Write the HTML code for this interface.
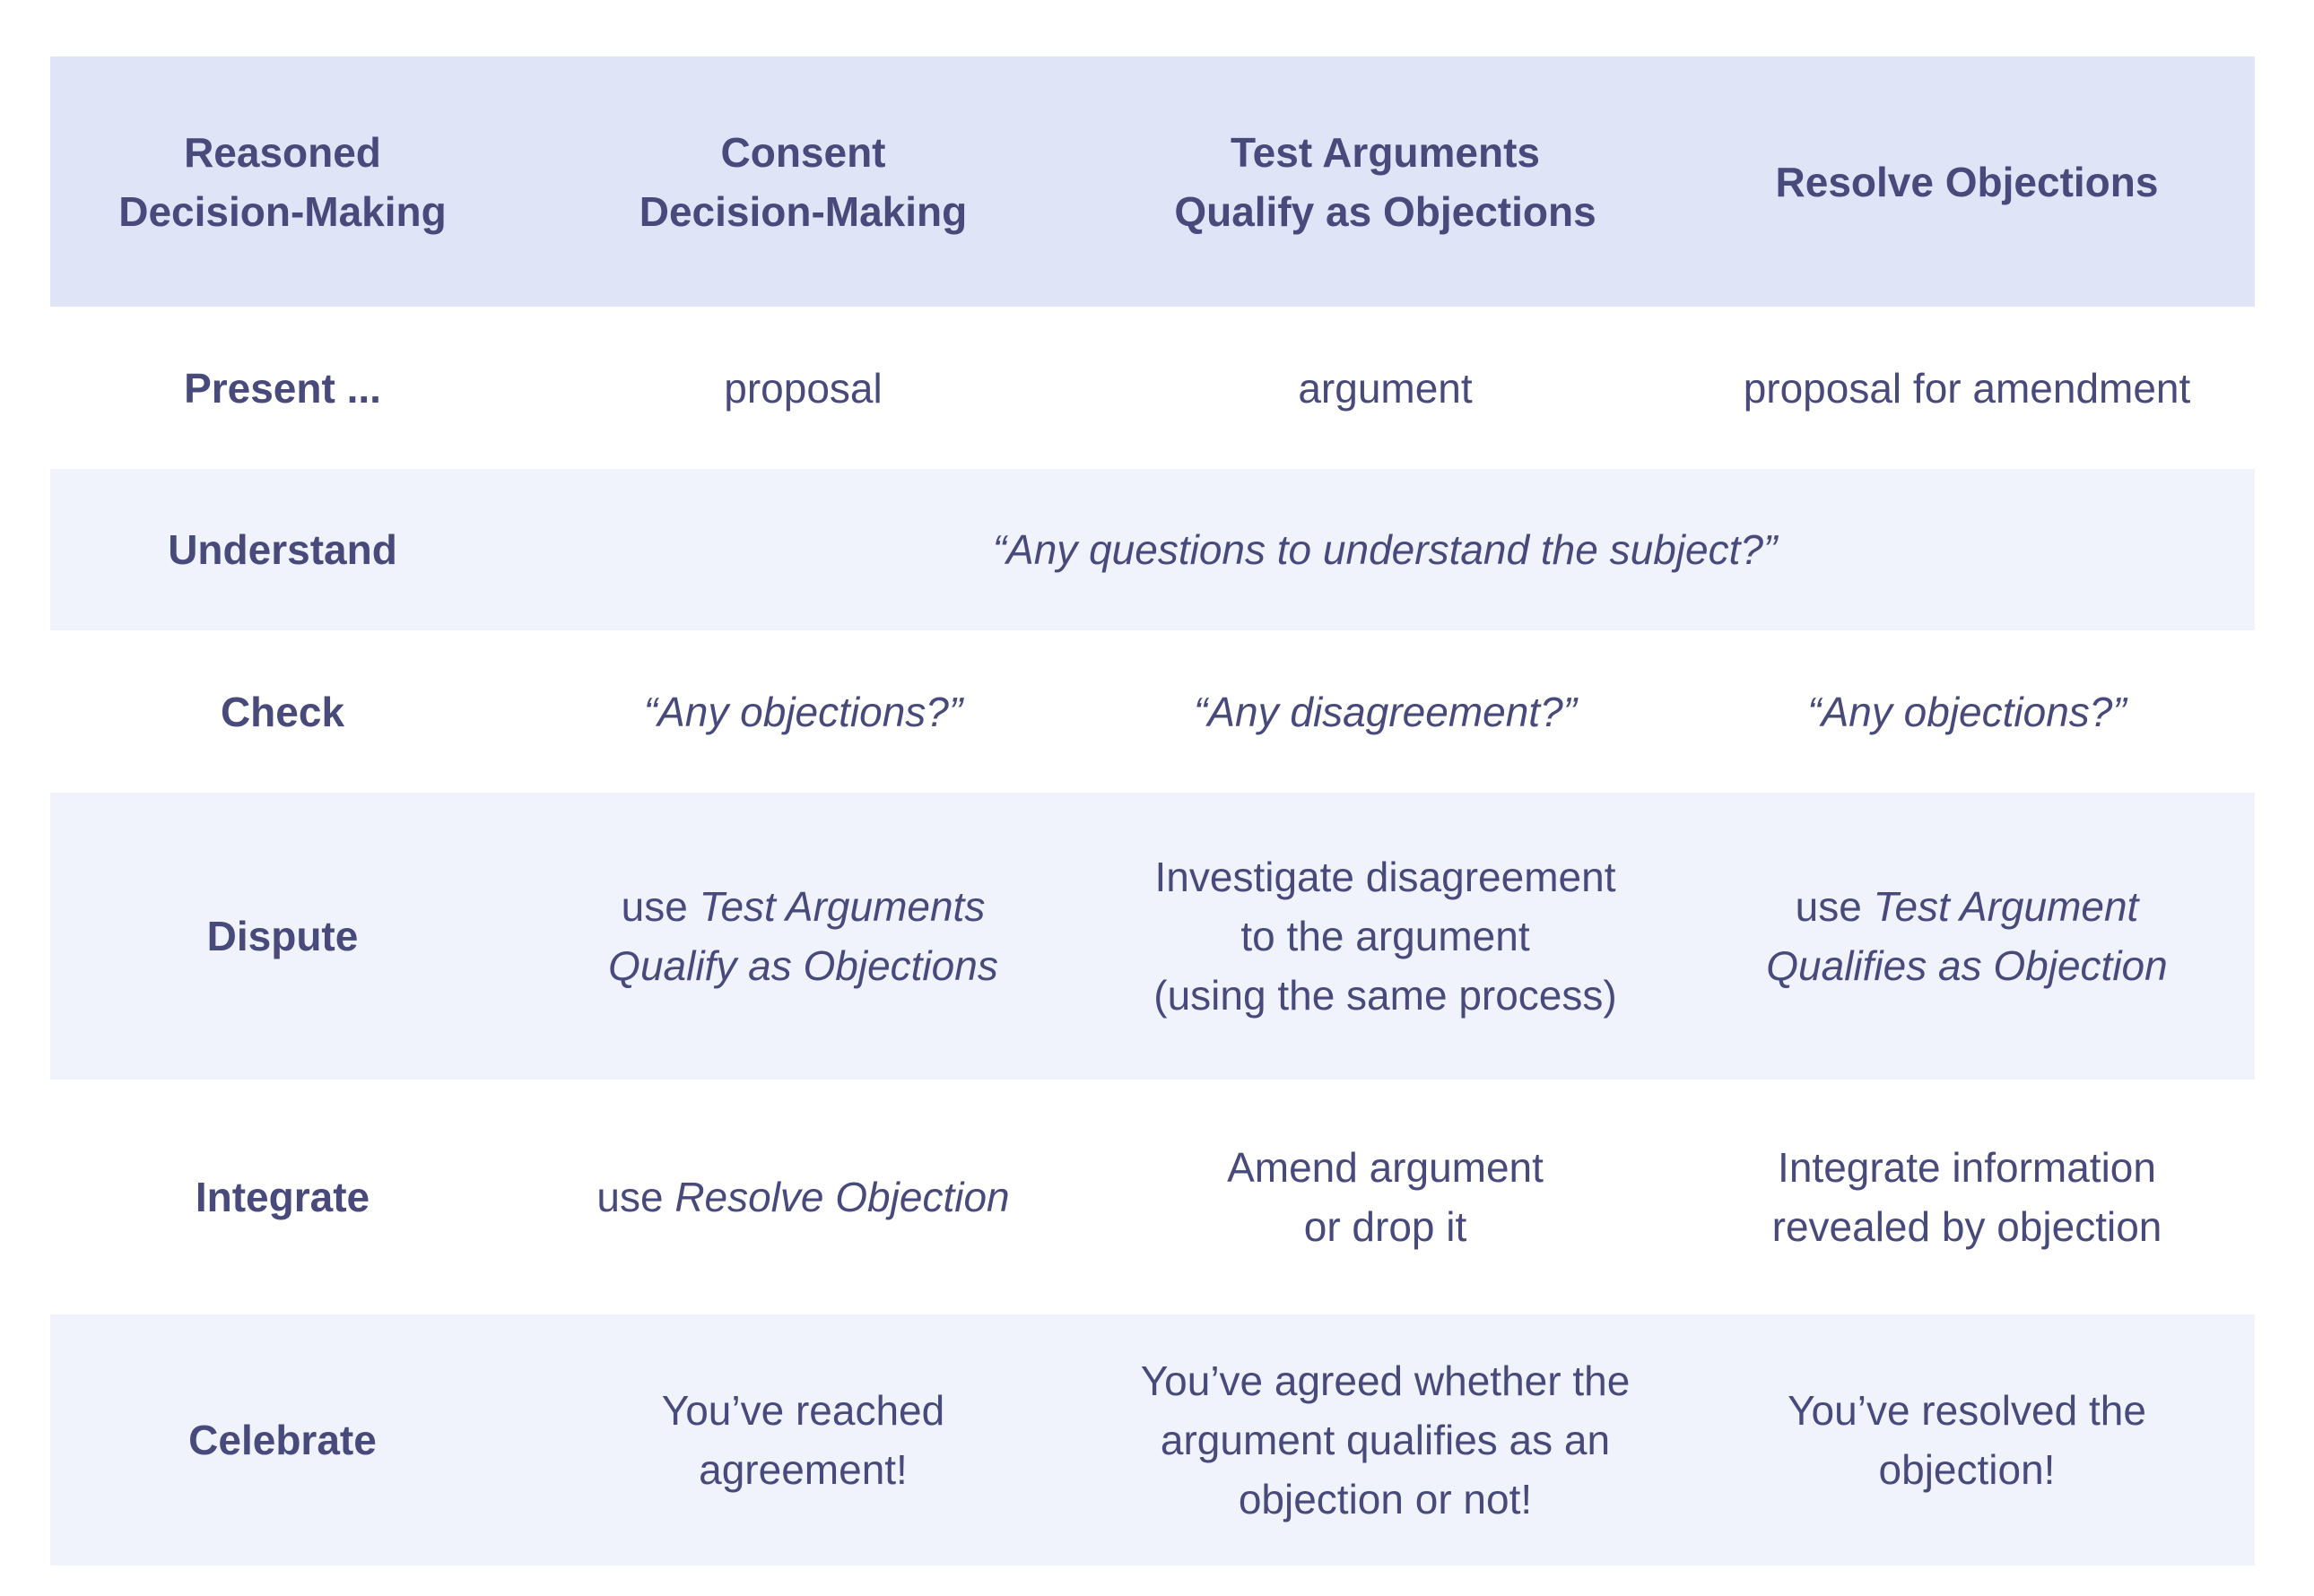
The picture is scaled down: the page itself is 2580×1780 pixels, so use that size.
<!DOCTYPE html>
<html><head><meta charset="utf-8"><style>
html,body{margin:0;padding:0;background:#fff;width:2580px;height:1780px;overflow:hidden}
table{position:absolute;left:56px;top:63px;width:2458px;border-collapse:collapse;table-layout:fixed;font-family:"Liberation Sans",sans-serif;color:#474a7a;font-size:46px;line-height:66px}
td{text-align:center;vertical-align:middle;padding:0}
tr.h td{background:#dfe5f7;font-weight:bold;height:279px}
tr.l td{background:#f0f3fc}
td.b{font-weight:bold}
i{font-style:italic}
</style></head><body>
<table>
<colgroup><col style="width:518px"><col style="width:643px"><col style="width:655px"><col style="width:642px"></colgroup>
<tr class="h"><td>Reasoned<br>Decision-Making</td><td>Consent<br>Decision-Making</td><td>Test Arguments<br>Qualify as Objections</td><td>Resolve Objections</td></tr>
<tr style="height:181px"><td class="b">Present ...</td><td>proposal</td><td>argument</td><td>proposal for amendment</td></tr>
<tr class="l" style="height:180px"><td class="b">Understand</td><td colspan="3"><i>“Any questions to understand the subject?”</i></td></tr>
<tr style="height:181px"><td class="b">Check</td><td><i>“Any objections?”</i></td><td><i>“Any disagreement?”</i></td><td><i>“Any objections?”</i></td></tr>
<tr class="l" style="height:320px"><td class="b">Dispute</td><td>use <i>Test Arguments<br>Qualify as Objections</i></td><td>Investigate disagreement<br>to the argument<br>(using the same process)</td><td>use <i>Test Argument<br>Qualifies as Objection</i></td></tr>
<tr style="height:262px"><td class="b">Integrate</td><td>use <i>Resolve Objection</i></td><td>Amend argument<br>or drop it</td><td>Integrate information<br>revealed by objection</td></tr>
<tr class="l" style="height:280px"><td class="b">Celebrate</td><td>You’ve reached<br>agreement!</td><td>You’ve agreed whether the<br>argument qualifies as an<br>objection or not!</td><td>You’ve resolved the<br>objection!</td></tr>
</table>
</body></html>
